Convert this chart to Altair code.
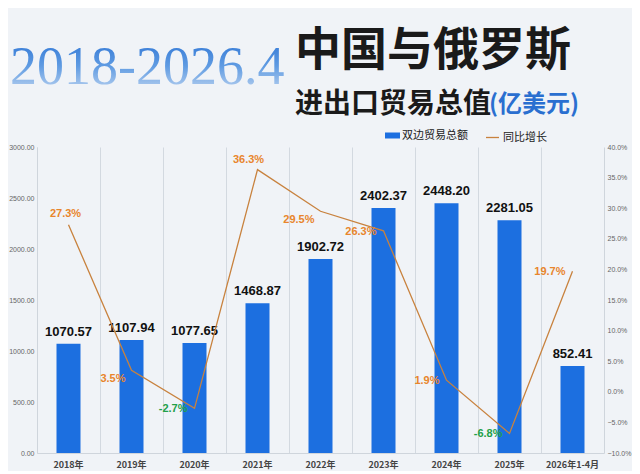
import altair as alt
import pandas as pd

years = ["2018年", "2019年", "2020年", "2021年", "2022年", "2023年", "2024年", "2025年", "2026年1-4月"]
trade = [1070.57, 1107.94, 1077.65, 1468.87, 1902.72, 2402.37, 2448.20, 2281.05, 852.41]
growth = [27.3, 3.5, -2.7, 36.3, 29.5, 26.3, 1.9, -6.8, 19.7]
left_ticks = [0, 500, 1000, 1500, 2000, 2500, 3000]
right_ticks = [-10, -5, 0, 5, 10, 15, 20, 25, 30, 35, 40]
title_year = "2018-2026.4"
title_line1 = "中国与俄罗斯"
title_line2 = "进出口贸易总值"
title_unit = "(亿美元)"
legend_bar = "双边贸易总额"
legend_line = "同比增长"

df = pd.DataFrame({"year": years, "trade": trade, "growth": growth})
df["trade_label"] = df["trade"].map(lambda v: f"{v:.2f}")
df["growth_label"] = df["growth"].map(lambda v: f"{v:.1f}%")
df["bar_series"] = legend_bar
df["line_series"] = legend_line

CJK = "Noto Sans CJK SC"
BLUE = "#1c6fe0"
LINE = "#c8823e"
ORANGE = "#e8852c"
GREEN = "#22a048"

x_enc = alt.X(
    "year:N", sort=years,
    scale=alt.Scale(paddingInner=0, paddingOuter=0),
    axis=alt.Axis(title=None, labelAngle=0, grid=True, bandPosition=0,
                  gridColor="#d3d9e0", ticks=False, domainColor="#cfd5dc",
                  labelFontSize=9, labelFontWeight="bold", labelColor="#444444",
                  labelPadding=7, labelFont=CJK),
)

y_left = alt.Y(
    "trade:Q", scale=alt.Scale(domain=[0, 3000], nice=False),
    axis=alt.Axis(orient="left", values=left_ticks, format=".2f", title=None,
                  grid=False, ticks=False, domainColor="#cfd5dc",
                  labelFontSize=7, labelColor="#666666", labelPadding=3,
                  labelFont="Liberation Sans"),
)

bars = alt.Chart(df).mark_bar(width=24).encode(
    x=x_enc, y=y_left,
    color=alt.Color("bar_series:N", scale=alt.Scale(range=[BLUE]),
                    legend=alt.Legend(orient="none", legendX=350, legendY=-17,
                                      title=None, symbolType="M-1.5,-0.6H1.5V0.6H-1.5Z",
                                      symbolSize=100, symbolStrokeWidth=0,
                                      labelFont=CJK, labelFontSize=11, labelColor="#222222",
                                      labelOffset=4)),
)

bar_labels = alt.Chart(df).mark_text(
    baseline="bottom", dy=-5, fontSize=13, fontWeight="bold",
    font="Liberation Sans", color="#111111",
).encode(x=x_enc, y=y_left, text="trade_label:N")

y_right = alt.Y(
    "growth:Q", scale=alt.Scale(domain=[-10, 40], nice=False),
    axis=alt.Axis(orient="right", values=right_ticks,
                  labelExpr="format(datum.value, '.1f') + '%'", title=None,
                  grid=False, ticks=False, domainColor="#cfd5dc",
                  labelFontSize=7, labelColor="#666666", labelPadding=3,
                  labelFont="Liberation Sans"),
)

line = alt.Chart(df).mark_line(strokeWidth=1.3).encode(
    x=x_enc, y=y_right,
    stroke=alt.Stroke("line_series:N", scale=alt.Scale(range=[LINE]),
                      legend=alt.Legend(orient="none", legendX=448, legendY=-17,
                                        title=None, symbolType="stroke",
                                        symbolSize=170, symbolStrokeWidth=1.3,
                                        labelFont=CJK, labelFontSize=11,
                                        labelColor="#222222", labelOffset=3)),
)

pct_color = alt.condition("datum.growth < 0", alt.value(GREEN), alt.value(ORANGE))


def pct_layer(sel, **kw):
    return alt.Chart(df).transform_filter(
        alt.FieldOneOfPredicate(field="year", oneOf=sel)
    ).mark_text(fontSize=11, fontWeight="bold", font="Liberation Sans", **kw).encode(
        x=x_enc, y=y_right, text="growth_label:N", color=pct_color
    )


pct_above = pct_layer(["2018年"], align="center", baseline="middle", dx=-3, dy=-11)
pct_above_left = pct_layer(["2021年"], align="center", baseline="middle", dx=-9, dy=-10)
pct_below_left = pct_layer(["2019年", "2022年"], align="right", baseline="middle", dx=-6, dy=9)
pct_left = pct_layer(["2020年", "2023年", "2024年", "2025年", "2026年1-4月"],
                     align="right", baseline="middle", dx=-7, dy=1)

grad = alt.LinearGradient(
    gradient="linear",
    stops=[alt.GradientStop(color="#2a72d4", offset=0),
           alt.GradientStop(color="#5f9be2", offset=0.5),
           alt.GradientStop(color="#c9dbf2", offset=1)],
    x1=0, x2=0, y1=0, y2=1,
)


def title_text(s, **kw):
    return alt.Chart(pd.DataFrame({"t": [s]})).mark_text(**kw).encode(text="t:N")


t_year = title_text(title_year, align="left", baseline="alphabetic", fontSize=54,
                    font="Liberation Serif", fill=grad).encode(x=alt.value(-27), y=alt.value(-63))
t_l1 = title_text(title_line1, align="left", baseline="alphabetic", fontSize=46,
                  font=CJK, fontWeight="bold", color="#1a1a1a").encode(x=alt.value(258), y=alt.value(-82))
t_l2 = title_text(title_line2, align="left", baseline="alphabetic", fontSize=28,
                  font=CJK, fontWeight="bold", color="#1a1a1a").encode(x=alt.value(258), y=alt.value(-34))
t_unit = title_text(title_unit, align="left", baseline="alphabetic", fontSize=24,
                    font=CJK, fontWeight="bold", color="#2a6fd0").encode(x=alt.value(452), y=alt.value(-35))

left_group = alt.layer(bars, bar_labels, t_year, t_l1, t_l2, t_unit)
right_group = alt.layer(line, pct_above, pct_above_left, pct_below_left, pct_left)

chart = alt.layer(left_group, right_group).resolve_scale(
    y="independent", color="independent", stroke="independent"
).properties(
    width=567, height=306,
    autosize=alt.AutoSizeParams(type="none"),
    padding={"left": 29, "top": 139, "right": 28, "bottom": 18},
).configure(background="#f0f3f7").configure_view(stroke=None)

chart.save("out.html", embed_options={"renderer": "svg", "actions": False})
